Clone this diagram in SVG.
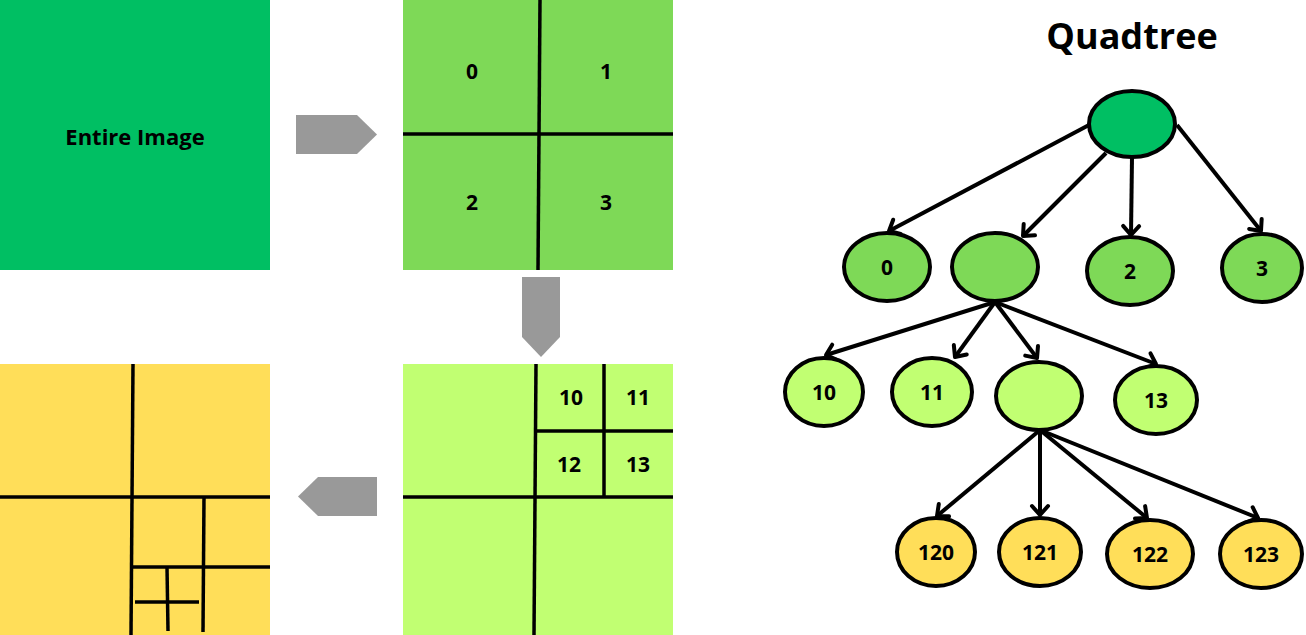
<svg xmlns="http://www.w3.org/2000/svg" width="1306" height="635" viewBox="0 0 1306 635">
<style>
.grid{stroke:#000;stroke-width:3.5;stroke-linecap:butt;fill:none}
.lbl{font-family:"Open Sans","Liberation Sans",sans-serif;font-weight:700;font-size:21px;fill:#000;text-anchor:middle;dominant-baseline:central}
.node{stroke:#000;stroke-width:4}
.edge{stroke:#000;stroke-width:4;fill:none;marker-end:url(#arr)}
.shift{fill:#999999}
</style>
<defs>
<marker id="arr" markerUnits="userSpaceOnUse" markerWidth="24" markerHeight="24" viewBox="-14 -12 18 24" refX="0" refY="0" orient="auto">
<path d="M-9,-8 L0,0 L-9,8" fill="none" stroke="#000" stroke-width="4" stroke-linecap="round" stroke-linejoin="round"/>
</marker>
</defs>
<rect width="1306" height="635" fill="#fff"/>

<g id="entire-image">
<rect x="0" y="0" width="270" height="270" fill="#00BF63"/>
<text x="135" y="136" class="lbl" style="font-size:22px">Entire Image</text>
</g>

<g id="level1-image">
<rect x="403" y="0" width="270" height="270" fill="#7ED957"/>
<line class="grid" x1="540" y1="0" x2="538" y2="270"/>
<line class="grid" x1="403" y1="134" x2="673" y2="134"/>
<text x="472" y="71" class="lbl">0</text>
<text x="606" y="71" class="lbl">1</text>
<text x="472" y="202" class="lbl">2</text>
<text x="606" y="202" class="lbl">3</text>
</g>

<g id="level2-image">
<rect x="403" y="364" width="270" height="271" fill="#C1FF72"/>
<line class="grid" x1="536" y1="364" x2="534" y2="635"/>
<line class="grid" x1="403" y1="497" x2="673" y2="497"/>
<line class="grid" x1="604" y1="364" x2="604" y2="497"/>
<line class="grid" x1="535" y1="431" x2="673" y2="431"/>
<text x="571" y="397" class="lbl">10</text>
<text x="638" y="397" class="lbl">11</text>
<text x="569" y="464" class="lbl">12</text>
<text x="638" y="464" class="lbl">13</text>
</g>

<g id="level3-image">
<rect x="0" y="364" width="270" height="271" fill="#FFDE59"/>
<line class="grid" x1="133" y1="364" x2="131" y2="635"/>
<line class="grid" x1="0" y1="497" x2="270" y2="497"/>
<line class="grid" x1="204" y1="497" x2="203" y2="632"/>
<line class="grid" x1="132" y1="567" x2="270" y2="567"/>
<line class="grid" x1="167" y1="567" x2="168" y2="631"/>
<line class="grid" x1="135" y1="602" x2="199" y2="602"/>
</g>

<g id="shift-arrows">
<polygon class="shift" points="296,115 357,115 377,134.5 357,154 296,154"/>
<polygon class="shift" points="522,277 560,277 560,337 541,357 522,337"/>
<polygon class="shift" points="377,477 318,477 298,496.5 318,516 377,516"/>
</g>

<text x="1132" y="35" class="lbl" style="font-size:36px">Quadtree</text>

<g id="connectors">
<line class="edge" x1="1089" y1="125" x2="889" y2="231"/>
<line class="edge" x1="1106" y1="153" x2="1023" y2="236"/>
<line class="edge" x1="1132" y1="157" x2="1131" y2="235"/>
<line class="edge" x1="1177" y1="125" x2="1261" y2="231"/>
<line class="edge" x1="995" y1="302" x2="826" y2="355"/>
<line class="edge" x1="995" y1="302" x2="955" y2="357"/>
<line class="edge" x1="995" y1="302" x2="1037" y2="358"/>
<line class="edge" x1="995" y1="302" x2="1156" y2="364"/>
<line class="edge" x1="1040" y1="430" x2="937" y2="516"/>
<line class="edge" x1="1040" y1="430" x2="1040" y2="515"/>
<line class="edge" x1="1040" y1="430" x2="1147" y2="518"/>
<line class="edge" x1="1040" y1="430" x2="1258" y2="518"/>
</g>

<g id="node-root"><ellipse class="node" cx="1132" cy="124" rx="43" ry="33" fill="#00BF63"/></g>
<g id="node-0"><ellipse class="node" cx="887" cy="267" rx="43" ry="34" fill="#7ED957"/><text x="887" y="267" class="lbl">0</text></g>
<g id="node-1"><ellipse class="node" cx="995" cy="267" rx="43" ry="34" fill="#7ED957"/></g>
<g id="node-2"><ellipse class="node" cx="1130" cy="271" rx="43" ry="34" fill="#7ED957"/><text x="1130" y="271" class="lbl">2</text></g>
<g id="node-3"><ellipse class="node" cx="1262" cy="268" rx="40" ry="34" fill="#7ED957"/><text x="1262" y="268" class="lbl">3</text></g>
<g id="node-10"><ellipse class="node" cx="824" cy="392" rx="39" ry="34" fill="#C1FF72"/><text x="824" y="392" class="lbl">10</text></g>
<g id="node-11"><ellipse class="node" cx="932" cy="392" rx="40" ry="34" fill="#C1FF72"/><text x="932" y="392" class="lbl">11</text></g>
<g id="node-12"><ellipse class="node" cx="1039" cy="396" rx="43" ry="34" fill="#C1FF72"/></g>
<g id="node-13"><ellipse class="node" cx="1156" cy="400" rx="41" ry="34" fill="#C1FF72"/><text x="1156" y="400" class="lbl">13</text></g>
<g id="node-120"><ellipse class="node" cx="936" cy="552" rx="39" ry="34" fill="#FFDE59"/><text x="936" y="552" class="lbl">120</text></g>
<g id="node-121"><ellipse class="node" cx="1040" cy="552" rx="41" ry="34" fill="#FFDE59"/><text x="1040" y="552" class="lbl">121</text></g>
<g id="node-122"><ellipse class="node" cx="1150" cy="554" rx="43" ry="34" fill="#FFDE59"/><text x="1150" y="554" class="lbl">122</text></g>
<g id="node-123"><ellipse class="node" cx="1261" cy="554" rx="41" ry="34" fill="#FFDE59"/><text x="1261" y="554" class="lbl">123</text></g>
</svg>
